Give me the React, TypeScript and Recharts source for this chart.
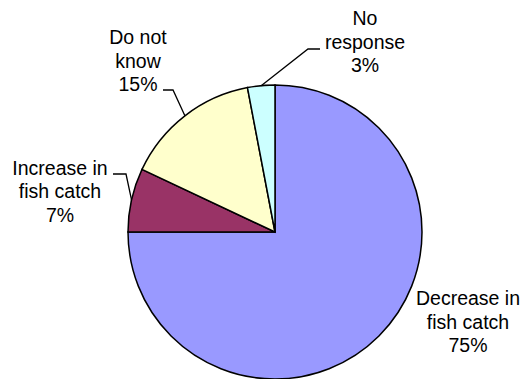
import { PieChart, Pie, Cell } from 'recharts';

const categories = ['Decrease in fish catch', 'Increase in fish catch', 'Do not know', 'No response'];
const labelLines = [
  ['Decrease in', 'fish catch'],
  ['Increase in', 'fish catch'],
  ['Do not', 'know'],
  ['No', 'response'],
];
const percents = [75, 7, 15, 3];
const colors = ['#9999FF', '#993366', '#FFFFCC', '#CCFFFF'];

const chartData = categories.map((name, i) => ({ name, value: percents[i] }));

const RADIAN = Math.PI / 180;
const FONT = 19.5;
const LINE = 23.5;

// label placement relative to the pie centre: text centre (middle baseline) and leader elbow
const labelLayout = [
  { tx: 193, ty: 96.5, leader: null },
  { tx: -215, ty: -34, leader: [-149, -58, -162, -58] },
  { tx: -137, ty: -164.5, leader: [-102, -142, -112, -142] },
  { tx: 90, ty: -183.5, leader: [33, -183, 45, -183] },
];

const renderLabel = (props: any) => {
  const { cx, cy, midAngle, outerRadius, index } = props;
  const layout = labelLayout[index];
  const lines = [...labelLines[index], `${percents[index]}%`];
  const x = cx + layout.tx;
  const y = cy + layout.ty;
  let leader = null;
  if (layout.leader) {
    const sx = cx + outerRadius * Math.cos(-midAngle * RADIAN);
    const sy = cy + outerRadius * Math.sin(-midAngle * RADIAN);
    const [ex, ey, hx, hy] = layout.leader;
    leader = (
      <polyline
        points={`${sx},${sy} ${cx + ex},${cy + ey} ${cx + hx},${cy + hy}`}
        fill="none"
        stroke="#000"
        strokeWidth={1.3}
      />
    );
  }
  return (
    <g key={`label-${index}`}>
      {leader}
      <text
        x={x}
        y={y - LINE}
        textAnchor="middle"
        fontSize={FONT}
        fill="#000"
        fontFamily="Arial, 'Liberation Sans', sans-serif"
      >
        {lines.map((t, i) => (
          <tspan key={i} x={x} y={y + (i - 1) * LINE}>
            {t}
          </tspan>
        ))}
      </text>
    </g>
  );
};

export default function App() {
  return (
    <div style={{ position: 'absolute', left: 0, top: 0, background: '#fff' }}>
      <PieChart width={527} height={379} margin={{ top: 0, right: 0, bottom: 0, left: 0 }}>
        <Pie
          data={chartData}
          dataKey="value"
          nameKey="name"
          cx={275}
          cy={232}
          outerRadius={147}
          startAngle={90}
          endAngle={-270}
          stroke="#000"
          strokeWidth={1.5}
          label={renderLabel}
          labelLine={false}
          isAnimationActive={false}
        >
          {chartData.map((d, i) => (
            <Cell key={d.name} fill={colors[i]} />
          ))}
        </Pie>
      </PieChart>
    </div>
  );
}
